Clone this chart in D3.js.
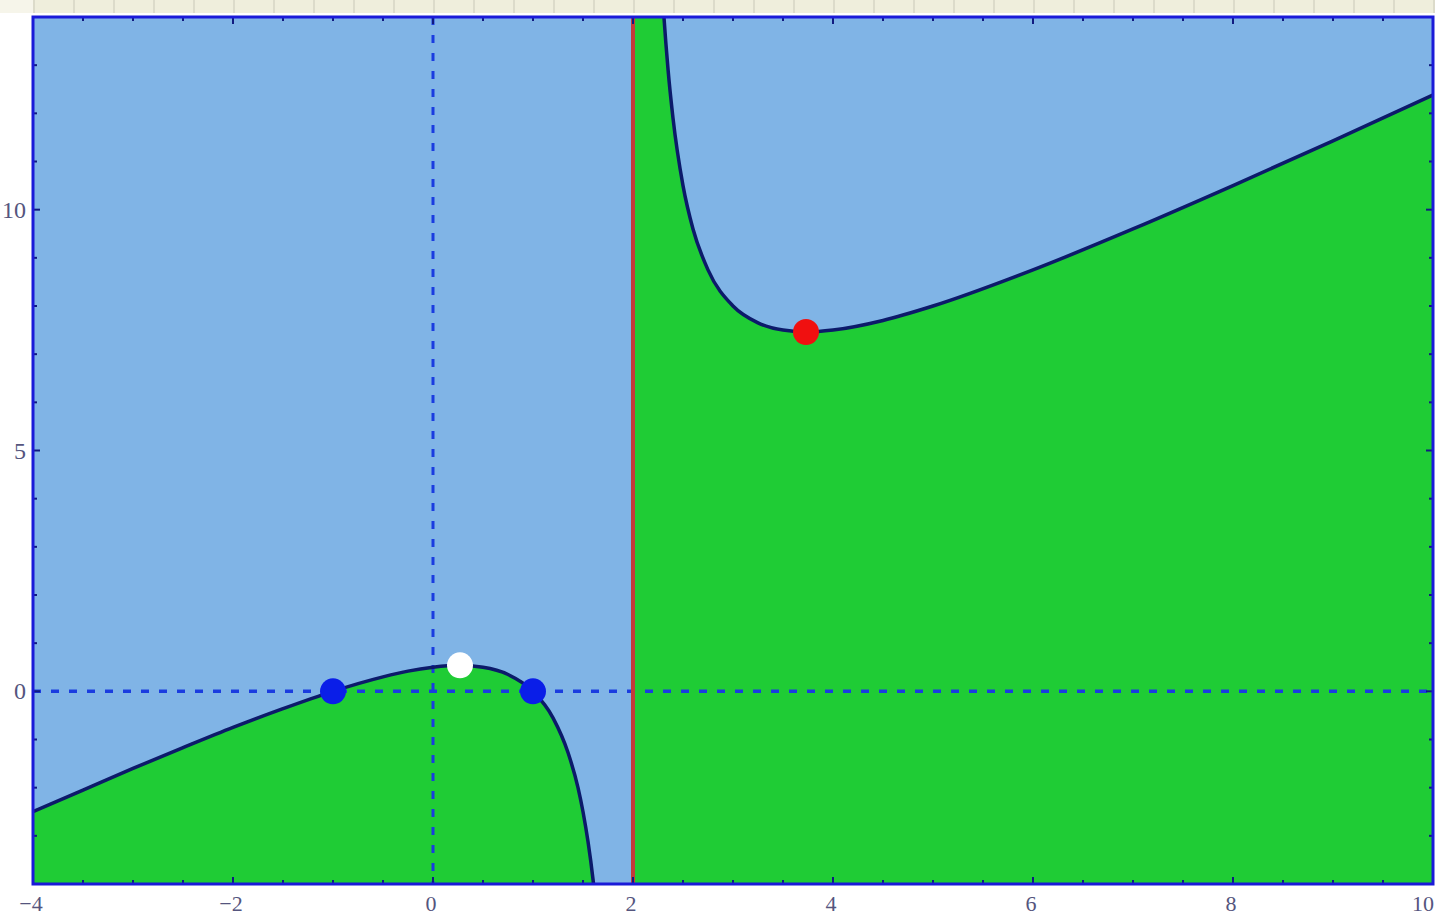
<!DOCTYPE html>
<html>
<head>
<meta charset="utf-8">
<script src="https://cdn.jsdelivr.net/npm/d3@7"></script>
<style>
  html, body { margin: 0; padding: 0; background: #ffffff; overflow: hidden; }
  svg { display: block; }
</style>
</head>
<body>
<svg id="chart" width="1435" height="917"></svg>
<script>
// ---- data ----
const leftX  = [-4, -3.5, -3, -2.5, -2, -1.5, -1, -0.5, -0.25, 0, 0.25, 0.5, 0.75, 1, 1.2, 1.35, 1.45, 1.5, 1.55, 1.6, 1.65];
const leftY  = [-2.5, -2.05, -1.6, -1.17, -0.75, -0.36, 0, 0.3, 0.42, 0.5, 0.54, 0.5, 0.35, 0, -0.55, -1.27, -2.0, -2.5, -3.12, -3.9, -4.92];
const rightX = [2.01, 2.05, 2.1, 2.2, 2.25, 2.3, 2.35, 2.4, 2.5, 2.6, 2.75, 3, 3.25, 3.5, 3.75, 4, 4.5, 5, 6, 7, 8, 9, 10];
const rightY = [304, 64, 34.1, 19.2, 16.25, 14.3, 12.92, 11.9, 10.5, 9.6, 8.75, 8, 7.65, 7.5, 7.46, 7.5, 7.7, 8, 8.75, 9.6, 10.5, 11.43, 12.38];
const asymptoteX = 2;
const pointX = [-1, 1, 0.27, 3.73];
const pointY = [0, 0, 0.54, 7.46];
const xTickLabels = [-4, -2, 0, 2, 4, 6, 8, 10];
const yTickLabels = [0, 5, 10];
const xDomain = [-4, 10];
const yDomain = [-4, 14];

// ---- drawing ----
const svg = d3.select("#chart");
const L = 33, R = 1433, T = 17, B = 884;
const x = d3.scaleLinear().domain(xDomain).range([L, R]);
const y = d3.scaleLinear().domain(yDomain).range([B, T]);

// top ruler strip
svg.append("rect").attr("x", 0).attr("y", 0).attr("width", 1435).attr("height", 13).attr("fill", "#efeedc");
svg.append("rect").attr("x", 0).attr("y", 0).attr("width", 33).attr("height", 13).attr("fill", "#f6f5ea");
svg.selectAll(".rul").data(d3.range(34, 1435, 40)).enter().append("line")
  .attr("x1", d => d).attr("x2", d => d).attr("y1", 0).attr("y2", 13)
  .attr("stroke", "#c9c8b8").attr("stroke-width", 1);

const defs = svg.append("defs");
defs.append("clipPath").attr("id", "clip").append("rect")
  .attr("x", L).attr("y", T).attr("width", R - L).attr("height", B - T);

const g = svg.append("g").attr("clip-path", "url(#clip)");
g.append("rect").attr("x", L).attr("y", T).attr("width", R - L).attr("height", B - T).attr("fill", "#80b4e6");

const left = leftX.map((v, i) => [v, leftY[i]]);
const right = rightX.map((v, i) => [v, rightY[i]]);

const area = d3.area().curve(d3.curveMonotoneX)
  .x(d => x(d[0])).y0(B + 5).y1(d => y(d[1]));
const line = d3.line().curve(d3.curveMonotoneX)
  .x(d => x(d[0])).y(d => y(d[1]));

g.append("path").attr("d", area(left)).attr("fill", "#1fcc35");
g.append("path").attr("d", area([[asymptoteX, rightY[0]]].concat(right))).attr("fill", "#1fcc35");

// dashed axes
g.append("line").attr("x1", L).attr("x2", R).attr("y1", y(0)).attr("y2", y(0))
  .attr("stroke", "#1a3ce0").attr("stroke-width", 3.5).attr("stroke-dasharray", "8,10");
g.append("line").attr("x1", x(0)).attr("x2", x(0)).attr("y1", T).attr("y2", B)
  .attr("stroke", "#1a3ce0").attr("stroke-width", 3).attr("stroke-dasharray", "8,10");

// curves
g.append("path").attr("d", line(left)).attr("fill", "none").attr("stroke", "#0c1a6a").attr("stroke-width", 3.5);
g.append("path").attr("d", line(right)).attr("fill", "none").attr("stroke", "#0c1a6a").attr("stroke-width", 3.5);

// asymptote
g.append("line").attr("x1", x(asymptoteX)).attr("x2", x(asymptoteX)).attr("y1", T).attr("y2", B)
  .attr("stroke", "#c43a3a").attr("stroke-width", 4);

// points
const pointColors = ["#0a1ee8", "#0a1ee8", "#ffffff", "#f01010"];
g.selectAll(".pt").data(pointX.map((v, i) => [v, pointY[i], i])).enter().append("circle")
  .attr("cx", d => x(d[0])).attr("cy", d => y(d[1])).attr("r", 13)
  .attr("fill", d => pointColors[d[2]]);

// ticks (inward)
const tickColor = "#101a80";
const xMinor = d3.range(-4, 10.001, 0.5);
const yMinor = d3.range(-4, 14.001, 1);
const tg = svg.append("g").attr("stroke", tickColor);
xMinor.forEach(v => {
  const len = xTickLabels.includes(v) ? 7 : 4;
  tg.append("line").attr("x1", x(v)).attr("x2", x(v)).attr("y1", B).attr("y2", B - len).attr("stroke-width", 2);
  tg.append("line").attr("x1", x(v)).attr("x2", x(v)).attr("y1", T).attr("y2", T + len).attr("stroke-width", 2);
});
yMinor.forEach(v => {
  const len = yTickLabels.includes(v) ? 7 : 4;
  tg.append("line").attr("y1", y(v)).attr("y2", y(v)).attr("x1", L).attr("x2", L + len).attr("stroke-width", 2);
  tg.append("line").attr("y1", y(v)).attr("y2", y(v)).attr("x1", R).attr("x2", R - len).attr("stroke-width", 2);
});

// frame
svg.append("rect").attr("x", L).attr("y", T).attr("width", R - L).attr("height", B - T)
  .attr("fill", "none").attr("stroke", "#1a1ad8").attr("stroke-width", 3);

// tick labels
const fmt = v => (v < 0 ? "\u2212" + Math.abs(v) : String(v));
const lastX = xTickLabels[xTickLabels.length - 1];
svg.selectAll(".xl").data(xTickLabels).enter().append("text")
  .attr("x", d => d === lastX ? 1434 : x(d) - 2).attr("y", 911)
  .attr("text-anchor", d => d === lastX ? "end" : "middle")
  .attr("font-family", "'Liberation Serif', 'DejaVu Serif', serif").attr("font-size", 22)
  .attr("fill", "#55557e").text(fmt);
svg.selectAll(".yl").data(yTickLabels).enter().append("text")
  .attr("x", 26).attr("y", d => y(d) + 8).attr("text-anchor", "end")
  .attr("font-family", "'Liberation Serif', 'DejaVu Serif', serif").attr("font-size", 24)
  .attr("fill", "#55557e").text(fmt);
</script>
</body>
</html>
